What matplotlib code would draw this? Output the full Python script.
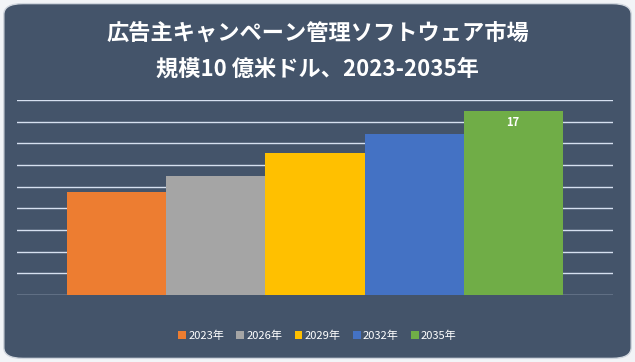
import matplotlib
matplotlib.use('Agg')
import matplotlib.pyplot as plt
from matplotlib.patches import FancyBboxPatch, Patch

plt.rcParams['font.family'] = ['Noto Sans CJK JP', 'DejaVu Sans']

# data (10億米ドル)
years = ['2023年', '2026年', '2029年', '2032年', '2035年']
values = [9.5, 11.0, 13.1, 14.9, 17.0]
colors = ['#ED7D31', '#A5A5A5', '#FFC000', '#4472C4', '#70AD47']
shown_labels = {4: '17'}

bg = '#44546A'
grid_col = '#D6E0F0'

fig = plt.figure(figsize=(6.35, 3.62), dpi=100)
fig.patch.set_facecolor('#F2F4F7')
frame = FancyBboxPatch((0.006, 0.01), 0.988, 0.98,
                       boxstyle='round,pad=0,rounding_size=0.03',
                       transform=fig.transFigure, facecolor=bg,
                       edgecolor='#D0D6DE', linewidth=1.0, zorder=-1)
fig.patches.append(frame)

fig.text(0.5, 0.905, '広告主キャンペーン管理ソフトウェア市場', ha='center', va='center',
         color='white', fontsize=16, fontweight='bold')
fig.text(0.5, 0.81, '規模10 億米ドル、2023-2035年', ha='center', va='center',
         color='white', fontsize=16, fontweight='bold')

ax = fig.add_axes([0.027, 0.185, 0.938, 0.539])
ax.set_facecolor('none')
ax.set_ylim(0, 18)
ax.set_xlim(-0.5, 0.5)

w = 0.832 / len(values)
start = -0.416 + w / 2
for i, (yr, v, c) in enumerate(zip(years, values, colors)):
    ax.bar(start + i * w, v, width=w, color=c, label=yr, zorder=3)
    if i in shown_labels:
        ax.text(start + i * w, v - 1.1, shown_labels[i], ha='center', va='center',
                color='white', fontsize=8, fontweight='bold', zorder=4)

ax.set_yticks(range(0, 19, 2))
ax.yaxis.grid(True, color=grid_col, linewidth=1.0, zorder=1)
ax.tick_params(left=False, bottom=False, labelleft=False, labelbottom=False)
for s in ax.spines.values():
    s.set_visible(False)

handles = [Patch(facecolor=c, label=y) for y, c in zip(years, colors)]
fig.legend(handles=handles, loc='center', bbox_to_anchor=(0.5, 0.072), ncol=5,
           frameon=False, fontsize=8, labelcolor='white',
           handlelength=0.7, handleheight=0.7, handletextpad=0.2, columnspacing=1.1)

fig.savefig('out.png', dpi=100, facecolor=fig.get_facecolor())
